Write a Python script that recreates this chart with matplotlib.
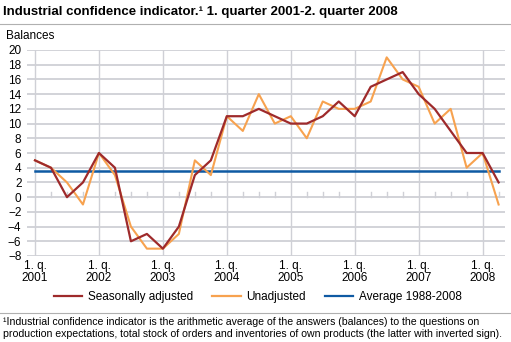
import matplotlib.pyplot as plt
import numpy as np
from matplotlib.lines import Line2D

plt.rcParams['font.family'] = ['Liberation Sans', 'DejaVu Sans']

# Quarters 1. q. 2001 - 2. q. 2008
years = [2001, 2002, 2003, 2004, 2005, 2006, 2007, 2008]
seasonally_adjusted = [5, 4, 0, 2, 6, 4, -6, -5, -7, -4, 3, 5,
                       11, 11, 12, 11, 10, 10, 11, 13, 11, 15, 16, 17,
                       14, 12, 9, 6, 6, 2]
unadjusted = [5, 4, 2, -1, 6, 3, -4, -7, -7, -5, 5, 3,
              11, 9, 14, 10, 11, 8, 13, 12, 12, 13, 19, 16,
              15, 10, 12, 4, 6, -1]
average_1988_2008 = 3.6

red = '#9e2a2b'
orange = '#f7a24f'
blue = '#0f5aa3'
grid = '#cfd0d6'

x = np.arange(len(unadjusted))

fig = plt.figure(figsize=(5.11, 3.42), dpi=100)
ax = fig.add_axes([27 / 511, 1 - 256 / 342, 478 / 511, 206 / 342])

# Grid
for v in range(-8, 21, 2):
    ax.axhline(v, color=grid, linewidth=1.3, zorder=0)
for i in range(0, len(x), 4):
    ax.axvline(i, color=grid, linewidth=1.0, zorder=0)
# Small quarter ticks on the zero line
for i in x:
    if i % 4:
        ax.plot([i, i], [0, 0.7], color=grid, linewidth=1.0, zorder=0)

ax.plot(x, [average_1988_2008] * len(x), color=blue, linewidth=1.8, zorder=2)
ax.plot(x, unadjusted, color=orange, linewidth=1.5, zorder=3)
ax.plot(x, seasonally_adjusted, color=red, linewidth=1.6, zorder=4)

ax.set_xlim(-0.5, 29.4)
ax.set_ylim(-8, 20)
ax.set_yticks(range(-8, 21, 2))
ax.set_xticks(range(0, len(x), 4))
ax.set_xticklabels([f'1. q.\n{y}' for y in years], fontsize=8.5, linespacing=0.95)
ax.tick_params(axis='y', labelsize=8.5, length=0, pad=4)
ax.tick_params(axis='x', length=0, pad=3)
for s in ax.spines.values():
    s.set_visible(False)

fig.text(3 / 511, 1 - 12 / 342,
         'Industrial confidence indicator.¹ 1. quarter 2001-2. quarter 2008',
         fontsize=9.5, fontweight='bold', va='center', ha='left')
fig.add_artist(Line2D([0, 1], [1 - 24 / 342] * 2, color='#b0b0b0', linewidth=0.8))
fig.text(6 / 511, 1 - 36 / 342, 'Balances', fontsize=8.5, va='center', ha='left')

handles = [Line2D([], [], color=red, linewidth=1.6),
           Line2D([], [], color=orange, linewidth=1.6),
           Line2D([], [], color=blue, linewidth=1.6)]
fig.legend(handles, ['Seasonally adjusted', 'Unadjusted', 'Average 1988-2008'],
           loc='center', bbox_to_anchor=(0.505, 1 - 297 / 342), ncol=3,
           frameon=False, fontsize=8.5, handlelength=2.4, handletextpad=0.5,
           columnspacing=1.6)

fig.add_artist(Line2D([0, 1], [1 - 313 / 342] * 2, color='#b0b0b0', linewidth=0.8))
fig.text(3 / 511, 1 - 328 / 342,
         '¹Industrial confidence indicator is the arithmetic average of the answers (balances) to the questions on\n'
         'production expectations, total stock of orders and inventories of own products (the latter with inverted sign).',
         fontsize=7.6, va='center', ha='left', linespacing=1.2)

fig.savefig('out.png', dpi=100)
